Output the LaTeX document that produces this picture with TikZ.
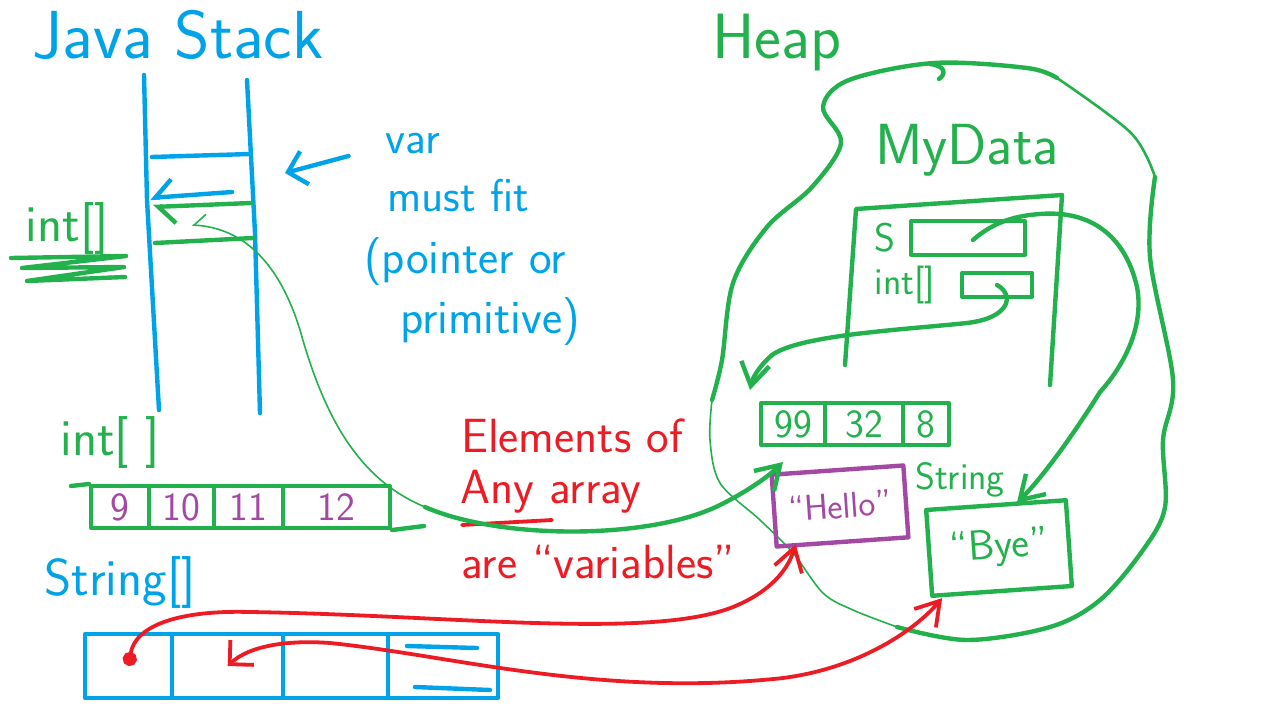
\documentclass[tikz,border=0pt]{standalone}
\usetikzlibrary{arrows.meta,calc}
\definecolor{penblue}{RGB}{0,162,232}
\definecolor{pengreen}{RGB}{34,177,76}
\definecolor{penred}{RGB}{237,28,36}
\definecolor{penpurple}{RGB}{163,73,164}
\newcommand{\hand}[1]{\fontsize{#1}{#1}\sffamily\selectfont}

\begin{document}
\begin{tikzpicture}[x=0.5pt,y=-0.5pt,line cap=round,line join=round,
    bluepen/.style={draw=penblue,line width=2.2pt},
    greenpen/.style={draw=pengreen,line width=2.2pt},
    midpen/.style={draw=pengreen,line width=1.3pt},
    thinpen/.style={draw=pengreen,line width=0.8pt},
    redpen/.style={draw=penred,line width=1.9pt},
    barb/.style={-{Straight Barb[length=4mm,width=5mm]}},
    intcell/.style={draw=pengreen,line width=2pt,anchor=west,minimum height=21pt,inner sep=0pt,text=penpurple,font=\hand{20}},
    heapcell/.style={draw=pengreen,line width=2pt,anchor=west,minimum height=21pt,inner sep=0pt,text=pengreen,font=\hand{20}},
    strcell/.style={draw=penblue,line width=2.2pt,anchor=west,minimum height=32pt,inner sep=0pt},
    bluetxt/.style={text=penblue,inner sep=1pt},
    greentxt/.style={text=pengreen,inner sep=1pt},
    redtxt/.style={text=penred,inner sep=1pt}]
  \useasboundingbox (0,0) rectangle (1283,722);

  % stack
  \node[bluetxt,font=\hand{34}] (stacklbl) at (178,35) {Java Stack};
  \draw[bluepen] (144,75) -- (147,200) -- (159,410);
  \draw[bluepen] (247,80) -- (255,233) -- (260,413);
  \draw[bluepen] (152,157) -- (250,154);
  \draw[bluepen,-{Straight Barb[right,length=3mm]}] (232,192) -- (150,198);
  \draw[greenpen,-{Straight Barb[left,length=3mm]}] (251,203) -- (153,207);
  \draw[greenpen] (155,243) -- (253,238);
  \coordinate (slot) at (192,225);
  \coordinate (stackedge) at (285,173);
  \node[greentxt,font=\hand{26}] (slotlbl) at (67,228) {int[]};
  \draw[greenpen] (11,258) -- (126,256) -- (22,268) -- (124,267) -- (27,281) -- (125,277);

  % note
  \node[bluetxt,font=\hand{23}] (varlbl) at (413,144) {var};
  \node[bluetxt,font=\hand{23}] (fitlbl) at (458,196) {must fit};
  \node[bluetxt,font=\hand{24}] (ptrlbl) at (465,262) {(pointer or};
  \node[bluetxt,font=\hand{24}] (primlbl) at (490,322) {primitive)};
  \draw[bluepen,-{Straight Barb[length=3mm]}] ($(varlbl.west)+(-35,12)$) -- (stackedge);

  % int array
  \node[greentxt,font=\hand{26}] (intarrlbl) at (110,442) {int[ ]};
  \foreach \l/\r/\v [count=\i] in {89/147/9,147/212/10,212/281/11,281/388/12}
    \node[intcell,minimum width={(\r-\l)*0.5pt}] (a\i) at (\l,507) {\v};
  \draw[greenpen] (71,486) -- (a1.north west);
  \draw[greenpen] (a4.south east) -- (424,526);

  % String array
  \node[bluetxt,font=\hand{26}] (strarrlbl) at (120,582) {String[]};
  \foreach \l/\r [count=\i] in {83/170,170/281,281/386,386/496}
    \node[strcell,minimum width={(\r-\l)*0.5pt}] (s\i) at (\l,666) {};
  \draw[bluepen] (407,646) -- (477,648);
  \draw[bluepen] (415,687) -- (490,690);

  % heap
  \node[greentxt,font=\hand{32}] (heaplbl) at (777,43) {Heap};
  \draw[greenpen] plot[smooth,tension=0.55] coordinates {(1155,177) (1150,257) (1173,380) (1163,440) (1165,507) (1143,550) (1100,600) (1050,627) (967,640) (897,627)};
  \draw[thinpen] plot[smooth,tension=0.55] coordinates {(897,627) (853,610) (823,593) (793,553) (760,520) (720,483) (710,440) (712,400)};
  \draw[greenpen] plot[smooth,tension=0.55] coordinates {(712,400) (722,360) (733,283) (767,227) (812,187) (841,143) (823,107) (849,80) (934,63) (1027,68) (1057,78)};
  \draw[midpen] plot[smooth,tension=0.55] coordinates {(1057,78) (1131,133) (1155,177)};
  \draw[greenpen] (930,64) .. controls (946,66) and (946,74) .. (939,79);

  % MyData object
  \node[greentxt,font=\hand{29}] (mydatalbl) at (967,150) {MyData};
  \draw[greenpen] (845,365) -- (856,209) -- (1062,195) -- (1050,385);
  \node[greentxt,font=\hand{20}] (slbl) at (885,238) {S};
  \node[draw=pengreen,line width=2pt,minimum width=57pt,minimum height=17pt] (sbox) at (968,238) {};
  \node[greentxt,font=\hand{19}] (intlbl) at (905,285) {int[]};
  \node[draw=pengreen,line width=2pt,minimum width=35pt,minimum height=12pt] (intbox) at (997,285) {};

  % heap array and strings
  \foreach \l/\r/\v [count=\i] in {759/823/99,823/901/32,901/947/8}
    \node[heapcell,minimum width={(\r-\l)*0.5pt}] (h\i) at (\l,424) {\v};
  \node[draw=penpurple,line width=2.2pt,text=penpurple,font=\hand{18},minimum width=66pt,minimum height=36pt,rotate=4] (hello) at (840,506) {“Hello”};
  \node[greentxt,font=\hand{19}] (strlbl) at (960,480) {String};
  \node[draw=pengreen,line width=2.2pt,text=pengreen,font=\hand{21},minimum width=70pt,minimum height=43pt,rotate=4] (bye) at (999,548) {“Bye”};

  % remark
  \node[redtxt,font=\hand{24}] (elemlbl) at (572,436) {Elements of};
  \node[redtxt,font=\hand{24},anchor=west] (anylbl) at (458,492) {Any array};
  \draw[redpen] (462,525) -- (552,520);
  \node[redtxt,font=\hand{24}] (arelbl) at (598,562) {are “variables”};

  % pointers
  \coordinate (slotbend) at (425,507);
  \draw[thinpen,{Straight Barb[right,length=2mm]}-] (slot) .. controls (245,228) and (280,265) .. (300,330) .. controls (325,420) and (360,480) .. (slotbend);
  \draw[greenpen,barb] (slotbend) .. controls (500,540) and (650,540) .. (720,505) .. controls (750,490) and (770,475) .. ($(h1.south west)+(24,15)$);
  \draw[greenpen,barb] (intbox.center) .. controls (1015,295) and (1010,318) .. (967,323) .. controls (900,330) and (800,335) .. (772,355) .. controls (757,368) and (752,380) .. ($(h1.north west)+(-9,-11)$);
  \draw[greenpen,barb] ($(sbox.center)+(5,2)$) .. controls (990,225) and (1010,216) .. (1040,214) .. controls (1090,210) and (1125,235) .. (1137,287) .. controls (1145,330) and (1120,370) .. (1100,392) .. controls (1070,440) and (1040,480) .. ($(bye.north)+(21,0)$);
  \draw[redpen,{Circle[length=2.5mm]}-{Straight Barb[length=4mm,width=5mm]}] (s1.center) .. controls (135,625) and (180,610) .. (250,612) .. controls (450,615) and (650,640) .. (733,607) .. controls (770,592) and (788,570) .. ($(hello.south)+(-47,0)$);
  \draw[redpen,{Straight Barb[length=3mm]}-{Straight Barb[length=4mm,width=5mm]}] (s2.center) .. controls (250,645) and (290,640) .. (330,643) .. controls (450,655) and (600,698) .. (783,678) .. controls (860,668) and (915,630) .. ($(bye.south west)+(12,0)$);
\end{tikzpicture}
\end{document}
